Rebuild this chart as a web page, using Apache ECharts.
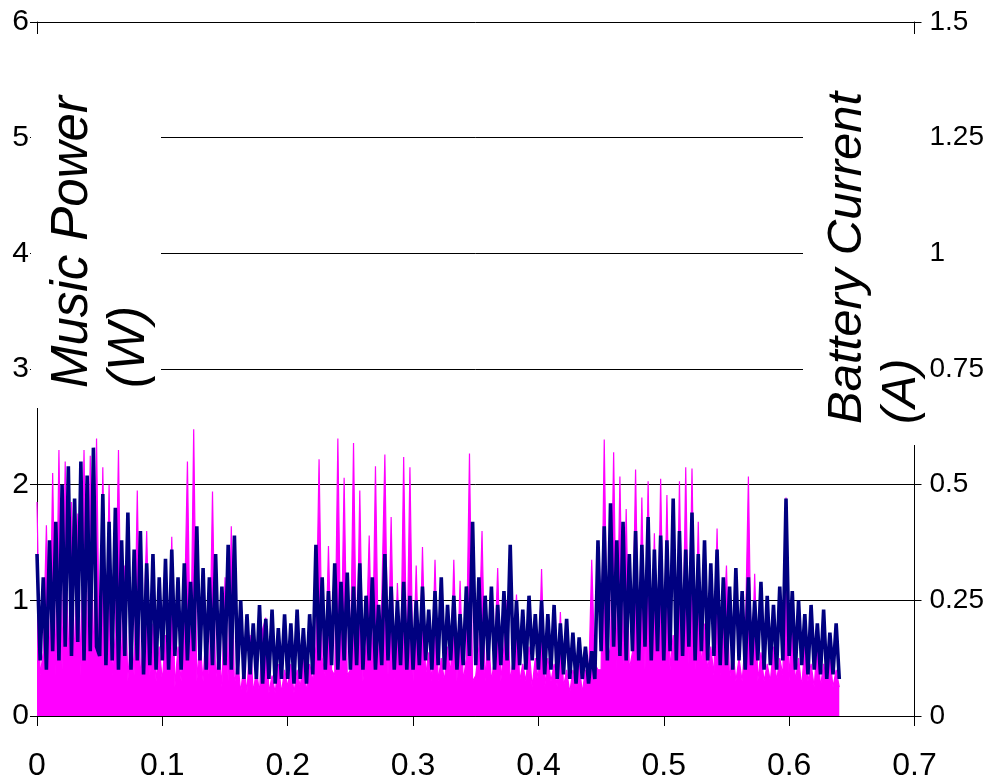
<!DOCTYPE html>
<html>
<head>
<meta charset="utf-8">
<script src="https://cdn.jsdelivr.net/npm/echarts@6/dist/echarts.min.js"></script>
<style>
  html, body { margin: 0; padding: 0; background: #fff; }
  #chart { width: 987px; height: 784px; }
</style>
</head>
<body>
<div id="chart"></div>
<script>
// samples are taken every X_STEP seconds, starting at 0
const X_STEP = 0.0025;

// music power (W), left axis
const musicPower = [
  1.85,0.35,0.55,1.65,0.4,2.1,0.35,2.3,0.4,2.2,0.35,1.85,0.4,1.75,0.35,2.3,0.45,2.25,0.35,2.4,
  0.35,2.15,0.4,2.0,0.35,0.7,2.3,0.35,1.3,0.3,0.8,0.35,1.95,0.3,0.7,1.6,0.35,0.8,0.3,0.6,
  0.3,0.7,0.3,1.55,0.25,0.6,0.3,0.8,2.2,0.35,2.48,0.3,0.65,0.3,0.8,0.3,1.94,0.3,0.6,0.25,
  1.2,0.3,1.64,0.25,0.5,0.2,0.45,0.2,0.7,0.2,0.4,0.2,0.75,0.85,0.2,0.35,0.2,0.45,0.2,0.4,
  0.25,0.45,0.2,0.4,0.25,0.5,0.2,0.45,0.3,0.6,2.22,0.5,0.35,1.47,0.4,0.35,2.4,0.4,2.06,0.35,
  0.4,2.36,0.35,1.95,0.3,0.6,1.56,0.35,2.16,0.4,1.0,2.26,0.35,1.72,0.3,1.15,0.35,2.24,0.4,2.15,
  0.3,1.3,0.3,1.46,0.35,0.55,0.3,1.35,0.3,0.5,0.3,0.6,0.35,1.35,0.3,1.17,0.3,0.5,2.27,0.3,
  0.35,0.6,1.6,0.3,0.7,0.3,0.5,1.28,0.3,0.6,1.0,0.3,0.5,1.05,0.3,0.45,0.3,0.6,0.25,0.5,
  0.3,1.27,0.25,0.5,0.3,0.45,0.25,0.9,0.25,0.4,0.2,0.4,0.25,0.45,0.2,0.4,0.25,1.35,0.45,0.4,
  0.4,2.39,0.45,0.6,2.28,0.4,2.07,0.45,1.79,0.4,0.55,2.13,0.45,1.89,0.4,2.03,0.45,1.58,0.4,2.05,
  0.45,1.91,0.4,0.7,0.45,2.03,0.4,2.15,0.45,2.14,0.4,1.68,0.4,0.8,0.4,0.6,0.35,1.62,0.35,0.7,
  1.3,0.3,0.6,0.3,0.5,0.3,0.65,2.07,0.3,1.23,0.3,0.55,0.3,0.45,0.3,0.6,0.3,0.5,0.35,1.89,
  0.3,0.8,0.3,0.5,0.25,0.6,0.3,0.45,0.25,0.65,0.25,0.45,0.3,0.5,0.25,0.4,0.25
];

// battery current (A), right axis
const batteryCurrent = [
  0.35,0.12,0.3,0.1,0.38,0.14,0.42,0.12,0.5,0.15,0.54,0.13,0.47,0.16,0.55,0.12,0.52,0.14,0.58,0.15,
  0.13,0.48,0.11,0.42,0.12,0.45,0.1,0.38,0.13,0.44,0.1,0.36,0.12,0.4,0.09,0.33,0.11,0.35,0.1,0.3,
  0.12,0.34,0.1,0.36,0.13,0.3,0.1,0.33,0.12,0.29,0.14,0.41,0.12,0.32,0.1,0.3,0.11,0.35,0.1,0.28,
  0.11,0.37,0.1,0.39,0.09,0.25,0.08,0.22,0.09,0.2,0.08,0.24,0.07,0.21,0.08,0.23,0.07,0.19,0.08,0.22,
  0.08,0.2,0.07,0.23,0.08,0.19,0.07,0.22,0.09,0.37,0.12,0.3,0.1,0.27,0.11,0.33,0.1,0.29,0.12,0.31,
  0.1,0.28,0.11,0.33,0.1,0.26,0.12,0.3,0.1,0.24,0.11,0.35,0.12,0.28,0.1,0.25,0.11,0.29,0.1,0.26,
  0.1,0.25,0.11,0.28,0.12,0.23,0.1,0.27,0.11,0.3,0.1,0.24,0.12,0.26,0.1,0.22,0.11,0.28,0.13,0.42,
  0.11,0.3,0.1,0.26,0.12,0.28,0.1,0.24,0.11,0.27,0.12,0.37,0.1,0.25,0.11,0.23,0.1,0.26,0.12,0.22,
  0.1,0.25,0.09,0.22,0.1,0.24,0.08,0.2,0.09,0.21,0.08,0.18,0.07,0.17,0.08,0.15,0.07,0.14,0.08,0.38,
  0.14,0.41,0.12,0.46,0.15,0.38,0.13,0.42,0.12,0.35,0.14,0.4,0.12,0.37,0.15,0.43,0.12,0.36,0.14,0.39,
  0.12,0.38,0.14,0.47,0.12,0.4,0.13,0.36,0.15,0.44,0.12,0.35,0.14,0.38,0.12,0.33,0.13,0.36,0.11,0.3,
  0.11,0.28,0.1,0.32,0.12,0.27,0.1,0.3,0.11,0.25,0.12,0.29,0.1,0.26,0.11,0.24,0.1,0.28,0.12,0.47,
  0.13,0.27,0.1,0.25,0.11,0.22,0.09,0.24,0.1,0.2,0.09,0.23,0.08,0.18,0.09,0.2,0.08
];

const leftTitle = 'Music Power\n(W)';
const rightTitle = 'Battery Current\n(A)';

const FONT = '"Liberation Sans", Arial, sans-serif';

const chart = echarts.init(document.getElementById('chart'));

const option = {
  animation: false,
  backgroundColor: '#fff',
  grid: { left: 37, right: 67, top: 22, bottom: 68 },
  xAxis: {
    type: 'value',
    min: 0,
    max: 0.7,
    interval: 0.1,
    axisLine: { show: true, onZero: false, lineStyle: { color: '#000', width: 1 } },
    axisTick: { show: true, length: 10, lineStyle: { color: '#000' } },
    axisLabel: { fontSize: 32, color: '#000', margin: 34, fontFamily: FONT },
    splitLine: { show: false }
  },
  yAxis: [
    {
      type: 'value',
      position: 'left',
      min: 0,
      max: 6,
      interval: 1,
      axisLine: { show: true, lineStyle: { color: '#000', width: 1 } },
      axisTick: { show: true, length: 7, lineStyle: { color: '#000' } },
      axisLabel: { fontSize: 30, color: '#000', margin: 8, fontFamily: FONT },
      splitLine: { show: true, lineStyle: { color: '#000', width: 1 } }
    },
    {
      type: 'value',
      position: 'right',
      min: 0,
      max: 1.5,
      interval: 0.25,
      axisLine: { show: true, lineStyle: { color: '#000', width: 1 } },
      axisTick: { show: true, length: 7, lineStyle: { color: '#000' } },
      axisLabel: { fontSize: 28, color: '#000', margin: 15, fontFamily: FONT },
      splitLine: { show: false }
    }
  ],
  series: [
    {
      name: 'Music Power',
      type: 'line',
      yAxisIndex: 0,
      symbol: 'none',
      silent: true,
      z: 2,
      lineStyle: { color: '#ff00ff', width: 1.2 },
      areaStyle: { color: '#ff00ff', opacity: 1 },
      data: musicPower.map((v, i) => [i * X_STEP, v])
    },
    {
      name: 'Battery Current',
      type: 'line',
      yAxisIndex: 1,
      symbol: 'none',
      silent: true,
      z: 3,
      // thick stroke so the fast ripple reads as a dense band
      lineStyle: { color: '#000080', width: 3.6, join: 'miter', miterLimit: 2 },
      data: batteryCurrent.map((v, i) => [i * X_STEP, v])
    }
  ],
  graphic: [
    // white boxes behind the axis titles (they hide the grid lines there)
    { type: 'rect', z: 50, shape: { x: 31, y: 34, width: 130, height: 374 }, style: { fill: '#fff' } },
    { type: 'rect', z: 50, shape: { x: 803, y: 34, width: 124, height: 411 }, style: { fill: '#fff' } },
    {
      type: 'text', z: 51, x: 44, y: 388, rotation: Math.PI / 2,
      style: {
        text: leftTitle, fill: '#000', font: 'italic 51px ' + FONT,
        textAlign: 'left', textVerticalAlign: 'top', lineHeight: 57
      }
    },
    {
      type: 'text', z: 51, x: 820, y: 424, rotation: Math.PI / 2,
      style: {
        text: rightTitle, fill: '#000', font: 'italic 49px ' + FONT,
        textAlign: 'left', textVerticalAlign: 'top', lineHeight: 54
      }
    }
  ]
};

chart.setOption(option);
</script>
</body>
</html>
